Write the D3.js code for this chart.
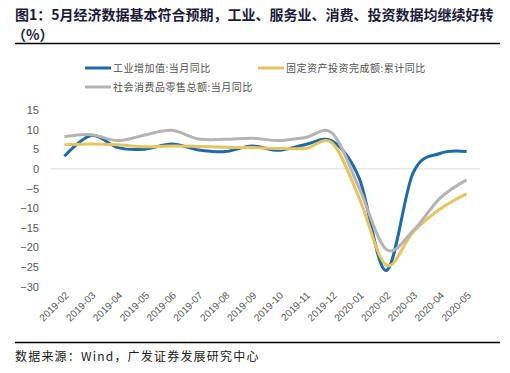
<!DOCTYPE html>
<html>
<head>
<meta charset="utf-8">
<script src="https://cdn.jsdelivr.net/npm/d3@7"></script>
<style>
  html, body { margin: 0; padding: 0; background: #fff; }
  svg { display: block; font-family: "Liberation Sans", Arial, "Noto Sans CJK SC", sans-serif; }
</style>
</head>
<body>
<svg id="chart" width="510" height="373"></svg>
<script>
// chart data
const months = ['2019-02', '2019-03', '2019-04', '2019-05', '2019-06', '2019-07', '2019-08', '2019-09',
  '2019-10', '2019-11', '2019-12', '2020-01', '2020-02', '2020-03', '2020-04', '2020-05'];
const industry = [3.2, 8.5, 5.4, 5.0, 6.3, 4.8, 4.4, 5.8, 4.7, 6.2, 7.0, -2.5, -25.9, -1.1, 3.9, 4.4];
const investment = [6.1, 6.3, 6.1, 5.6, 5.8, 5.7, 5.5, 5.4, 5.2, 5.2, 6.5, -7.5, -24.5, -16.1, -10.3, -6.3];
const retail = [8.2, 8.7, 7.2, 8.6, 9.8, 7.6, 7.5, 7.8, 7.2, 8.0, 9.0, -5.0, -20.5, -15.8, -7.5, -2.8];
const seriesNames = ['工业增加值:当月同比', '固定资产投资完成额:累计同比', '社会消费品零售总额:当月同比'];
const yTicks = [-30, -25, -20, -15, -10, -5, 0, 5, 10, 15];

const series = [
  { name: seriesNames[0], values: industry, color: '#1f6aa8' },
  { name: seriesNames[1], values: investment, color: '#e6c45f' },
  { name: seriesNames[2], values: retail, color: '#b4b4b4' }
];

const svg = d3.select('#chart');
const CJK = '"Noto Sans CJK SC", sans-serif';

// title
svg.append('text').attr('x', 15).attr('y', 20).attr('font-family', CJK).attr('font-size', 14)
  .attr('font-weight', 'bold').attr('fill', '#1c1c3a')
  .text('图1：5月经济数据基本符合预期，工业、服务业、消费、投资数据均继续好转');
svg.append('text').attr('x', 12).attr('y', 40).attr('font-family', CJK).attr('font-size', 14)
  .attr('font-weight', 'bold').attr('fill', '#1c1c3a').text('（%）');
svg.append('line').attr('x1', 15).attr('x2', 500).attr('y1', 43.5).attr('y2', 43.5)
  .attr('stroke', '#000').attr('stroke-width', 1.5);

// scales
const x = d3.scaleBand().domain(months).range([51, 480]);
const y = d3.scaleLinear().domain([-30, 15]).range([286.7, 109.9]);
const cx = m => x(m) + x.bandwidth() / 2;

// y axis
const yAxis = svg.append('g').attr('transform', 'translate(51,0)')
  .call(d3.axisLeft(y).tickValues(yTicks).tickSize(0).tickPadding(12));
yAxis.select('.domain').remove();
yAxis.selectAll('text').attr('font-family', '"Liberation Sans", Arial, sans-serif')
  .attr('font-size', 11).attr('fill', '#595959');

// zero line
svg.append('line').attr('x1', x.range()[0]).attr('x2', x.range()[1])
  .attr('y1', y(0)).attr('y2', y(0)).attr('stroke', '#d9d9d9').attr('stroke-width', 1);

// x labels
svg.append('g').selectAll('text').data(months).join('text')
  .attr('transform', d => `translate(${cx(d) + 5},296) rotate(-45)`)
  .attr('text-anchor', 'end').attr('font-size', 10).attr('fill', '#595959')
  .text(d => d);

// lines
const line = d3.line().x((d, i) => cx(months[i])).y(d => y(d)).curve(d3.curveCardinal);
svg.append('g').selectAll('path').data(series).join('path')
  .attr('d', d => line(d.values)).attr('fill', 'none')
  .attr('stroke', d => d.color).attr('stroke-width', 3).attr('stroke-linejoin', 'round');

// legend
const legPos = [[85, 68], [258, 68], [85, 87]];
const leg = svg.append('g').selectAll('g').data(series).join('g')
  .attr('transform', (d, i) => `translate(${legPos[i][0]},${legPos[i][1]})`);
leg.append('line').attr('x1', 0).attr('x2', 26).attr('stroke', d => d.color).attr('stroke-width', 3);
leg.append('text').attr('x', 28).attr('y', 3.5).attr('font-family', CJK).attr('font-size', 10)
  .attr('letter-spacing', 0.5).attr('fill', '#505050').text(d => d.name);

// footer
svg.append('line').attr('x1', 15).attr('x2', 500).attr('y1', 342.5).attr('y2', 342.5)
  .attr('stroke', '#000').attr('stroke-width', 1.5);
svg.append('text').attr('x', 15).attr('y', 361).attr('font-family', CJK).attr('font-size', 12)
  .attr('letter-spacing', 1.2).attr('fill', '#1a1a1a').text('数据来源：Wind，广发证券发展研究中心');
</script>
</body>
</html>
